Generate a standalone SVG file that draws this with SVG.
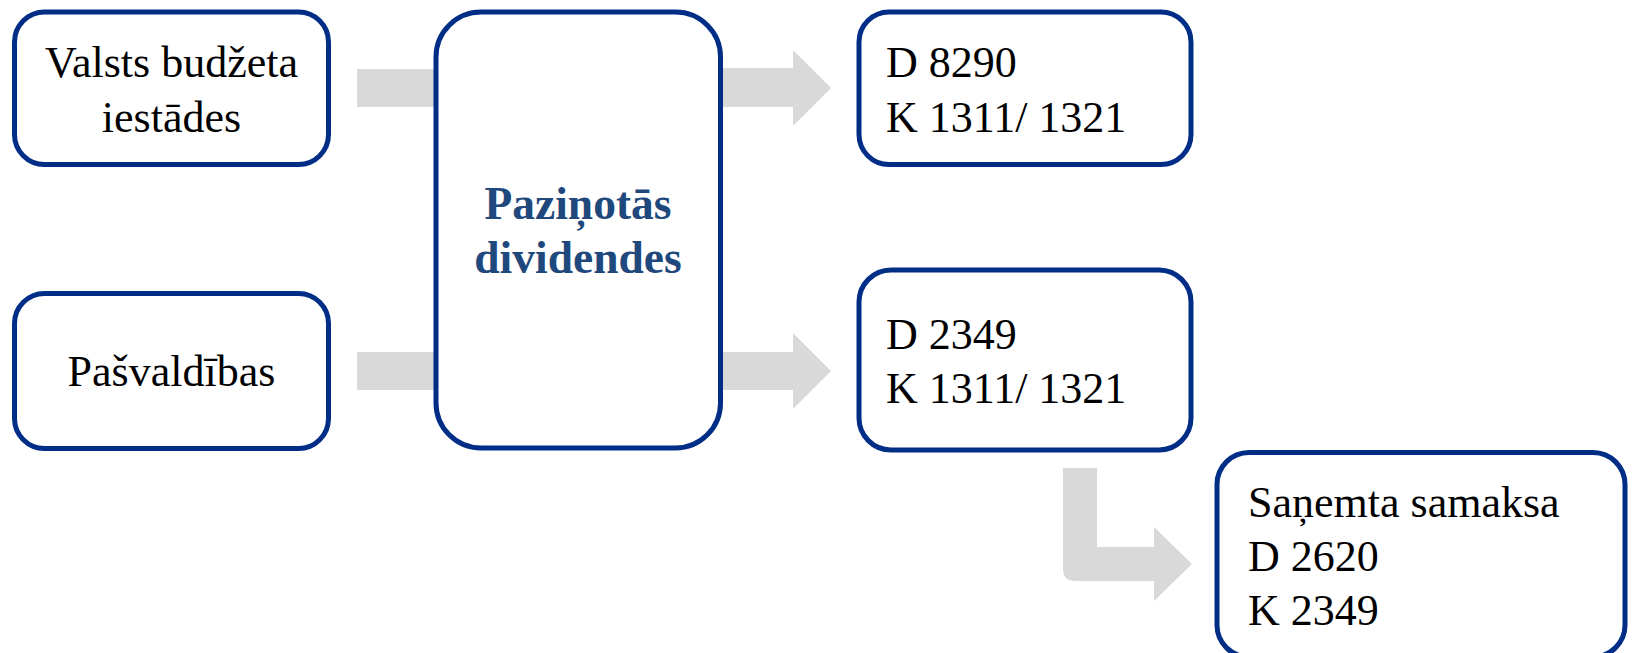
<svg xmlns="http://www.w3.org/2000/svg" width="1633" height="653" viewBox="0 0 1633 653">
  <style>
    .box { fill: #ffffff; stroke: #002D86; stroke-width: 5; }
    .arrow { fill: #D9D9D9; stroke: none; }
    .t { font-family: "Liberation Serif", "Times New Roman", serif; font-size: 44px; fill: #000000; }
    .c { text-anchor: middle; }
    .b { font-family: "Liberation Serif", "Times New Roman", serif; font-size: 45.5px; font-weight: bold; fill: #1F497D; text-anchor: middle; }
  </style>
  <rect width="1633" height="653" fill="#ffffff"/>
  <g id="connectors">
    <rect class="arrow" x="357" y="69" width="80" height="38"/>
    <rect class="arrow" x="357" y="352" width="80" height="38"/>
    <polygon class="arrow" points="720,68 793,68 793,50 831,88 793,126 793,107 720,107"/>
    <polygon class="arrow" points="720,352 793,352 793,333 831,371 793,409 793,390 720,390"/>
    <path class="arrow" d="M1063,468 L1097,468 L1097,547 L1154,547 L1154,527 L1192,564 L1154,601 L1154,581 L1075,581 Q1063,581 1063,569 Z"/>
  </g>
  <g id="node-valsts">
    <rect class="box" x="14.5" y="12" width="314" height="152.5" rx="30" ry="30"/>
    <text class="t c" x="171.5" y="77">Valsts budžeta</text>
    <text class="t c" x="171.5" y="132">iestādes</text>
  </g>
  <g id="node-pasvaldibas">
    <rect class="box" x="14.5" y="293.5" width="314" height="155" rx="30" ry="30"/>
    <text class="t c" x="171.5" y="386">Pašvaldības</text>
  </g>
  <g id="node-pazinotas">
    <rect class="box" x="436" y="12" width="284.5" height="436" rx="45" ry="45"/>
    <text class="b" x="578" y="219">Paziņotās</text>
    <text class="b" x="578" y="273">dividendes</text>
  </g>
  <g id="node-d8290">
    <rect class="box" x="859" y="12" width="332" height="152.5" rx="30" ry="30"/>
    <text class="t" x="886" y="77">D 8290</text>
    <text class="t" x="886" y="132">K 1311/ 1321</text>
  </g>
  <g id="node-d2349">
    <rect class="box" x="859" y="270" width="332" height="180" rx="32" ry="32"/>
    <text class="t" x="886" y="349">D 2349</text>
    <text class="t" x="886" y="403">K 1311/ 1321</text>
  </g>
  <g id="node-sanemta">
    <rect class="box" x="1217" y="452.5" width="408" height="204.5" rx="32" ry="32"/>
    <text class="t" x="1248" y="517">Saņemta samaksa</text>
    <text class="t" x="1248" y="571">D 2620</text>
    <text class="t" x="1248" y="625">K 2349</text>
  </g>
</svg>
